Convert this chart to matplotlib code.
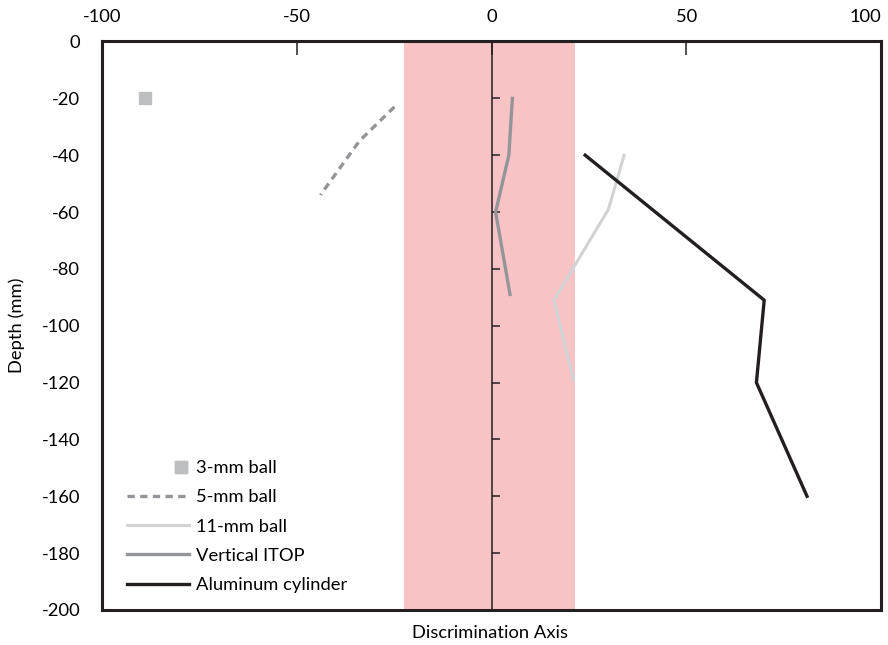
import numpy as np
import matplotlib
matplotlib.use('Agg')
import matplotlib.pyplot as plt
from matplotlib.legend_handler import HandlerLine2D

plt.rcParams['font.family'] = ['Lato', 'DejaVu Sans']
plt.rcParams['axes.unicode_minus'] = False

# data (discrimination value, depth in mm)
ball3_x = [-89]
ball3_y = [-20]
ball5_x = [-25, -34, -44]
ball5_y = [-23, -35, -54]
ball11_x = [34, 30, 16, 21]
ball11_y = [-40, -59, -91, -119]
itop_x = [5.3, 4.4, 1.0, 4.7]
itop_y = [-20, -40, -60, -89]
alu_x = [24, 70, 68, 81]
alu_y = [-40, -91, -120, -160]
band = (-22.5, 21.5)

xticks = [-100, -50, 0, 50, 100]
yticks = list(range(0, -201, -20))
labels = ['3-mm ball', '5-mm ball', '11-mm ball', 'Vertical ITOP', 'Aluminum cylinder']

dark = '#231f20'
fs = 13.2


class RightMarker(HandlerLine2D):
    # put the lone marker at the right end of the handle, like the original
    def get_xdata(self, legend, xdescent, ydescent, width, height, fontsize):
        xm = -xdescent + width - 0.45 * fontsize
        return np.array([xm, xm]), np.array([xm, xm])


fig = plt.figure(figsize=(8.88, 6.45), dpi=100)
ax = fig.add_axes([0.1154, 0.0543, 0.8767, 0.8814])

ax.axvspan(band[0], band[1], color='#f8c3c4', lw=0, zorder=0)
ax.axvline(0, color=dark, lw=1.1, zorder=1)
# little ticks on the zero line
tick_len = 2.2
ax.hlines(yticks[1:-1], 0, tick_len, color=dark, lw=1.1, zorder=1)

h1, = ax.plot(ball3_x, ball3_y, ls='none', marker='s', ms=8.5, color='#bcbec0', zorder=3)
h2, = ax.plot(ball5_x, ball5_y, ls=(0, (2.2, 1.6)), lw=2.4, color='#939598', zorder=3)
h3, = ax.plot(ball11_x, ball11_y, lw=2.2, color='#d1d3d4', zorder=3)
h4, = ax.plot(itop_x, itop_y, lw=2.4, color='#939598', zorder=3)
h5, = ax.plot(alu_x, alu_y, lw=2.4, color=dark, zorder=3)

ax.set_xlim(-100, 100)
ax.set_ylim(-200, 0)
ax.xaxis.tick_top()
ax.set_xticks(xticks)
ax.set_yticks(yticks)
ax.tick_params(axis='x', direction='in', length=10, width=1.1, colors=dark,
               labelsize=fs, pad=12, labelcolor='black')
ax.tick_params(axis='y', length=0, labelsize=fs, pad=16)
ax.get_xticklabels()[-1].set_ha('right')
for s in ax.spines.values():
    s.set_linewidth(2.2)
    s.set_color(dark)

ax.set_ylabel('Depth (mm)', fontsize=fs, labelpad=12)
fig.text(0.552, 0.0186, 'Discrimination Axis', ha='center', va='center', fontsize=fs)

leg = ax.legend([h1, h2, h3, h4, h5], labels, loc='lower left',
                bbox_to_anchor=(0.031, 0.030), frameon=False, borderpad=0,
                borderaxespad=0, fontsize=fs, handlelength=3.4,
                handletextpad=0.4, labelspacing=0.72,
                handler_map={h1: RightMarker(numpoints=2)})

fig.savefig('out.png', dpi=100)
